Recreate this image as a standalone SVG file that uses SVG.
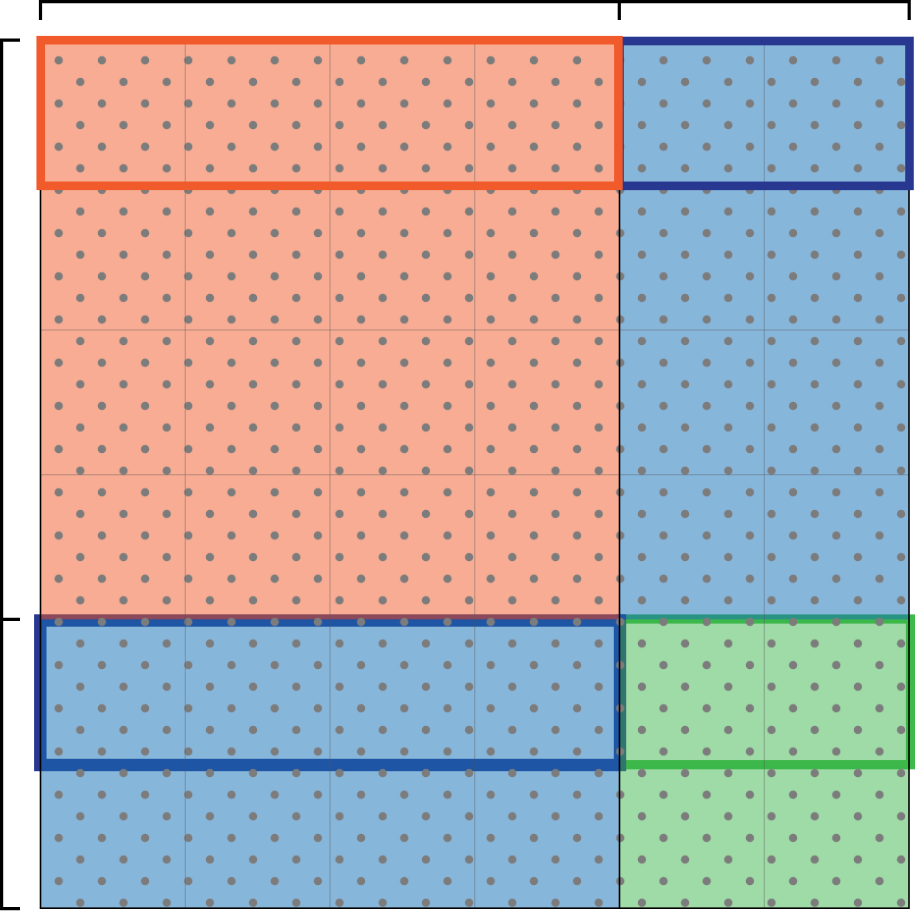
<svg xmlns="http://www.w3.org/2000/svg" width="915" height="911" viewBox="0 0 915 911">
  <style>
    .bracket { fill: none; stroke: #000; stroke-width: 3.2; }
    .fill-orange { fill: #f05a28; fill-opacity: 0.5; }
    .fill-blue { fill: #1671b9; fill-opacity: 0.515; }
    .fill-green { fill: #39b54a; fill-opacity: 0.49; }
    .grid { fill: none; stroke: #555; stroke-opacity: 0.4; stroke-width: 1; }
    .edge { fill: none; stroke: #000; stroke-width: 1.6; }
  </style>
  <defs>
    <pattern id="dots" patternUnits="userSpaceOnUse" x="47.9" y="49.5" width="43.2" height="43.2">
      <circle cx="10.8" cy="10.8" r="4.2" fill="#7c7c7c"/>
      <circle cx="32.4" cy="32.4" r="4.2" fill="#7c7c7c"/>
    </pattern>
  </defs>

  <g id="brackets">
    <path class="bracket" d="M40.5,20 V1.6 H909.2 V20 M619.3,1.6 V20"/>
    <path class="bracket" d="M20,40.2 H1.6 V908.7 H20 M1.6,619.3 H20"/>
  </g>

  <g id="highlight-green">
    <rect x="620" y="619" width="290.5" height="145.7" fill="none" stroke="#3fb94c" stroke-width="9.2"/>
  </g>
  <g id="highlight-blue-bottom">
    <rect x="40.3" y="620.5" width="579.7" height="144.5" fill="none" stroke="#283891" stroke-width="12.4"/>
  </g>

  <g id="region-orange">
    <rect class="fill-orange" x="40.5" y="40.5" width="579" height="579"/>
  </g>
  <g id="region-blue-right">
    <rect class="fill-blue" x="619.5" y="40.5" width="289.5" height="579"/>
  </g>
  <g id="region-blue-bottom">
    <rect class="fill-blue" x="40.5" y="619.5" width="579" height="288.5"/>
  </g>
  <g id="region-green">
    <rect class="fill-green" x="619.5" y="619.5" width="289.5" height="288.5"/>
  </g>

  <g id="dot-lattice">
    <rect x="50" y="52" width="858" height="856" fill="url(#dots)"/>
  </g>

  <g id="grid">
    <path class="grid" d="M185.25,40.5 V908 M330,40.5 V908 M474.75,40.5 V908 M764.25,40.5 V908 M40.5,185.25 H909 M40.5,330 H909 M40.5,474.75 H909"/>
  </g>

  <g id="outline">
    <rect class="edge" x="40.5" y="40.5" width="868.5" height="867.7"/>
    <path class="edge" d="M619.5,40.5 V908"/>
  </g>

  <g id="highlight-blue-top">
    <rect x="619.5" y="41" width="290" height="144.85" fill="none" stroke="#283891" stroke-width="8.6"/>
  </g>
  <g id="highlight-orange">
    <rect x="40.75" y="40.2" width="577.65" height="145.6" fill="none" stroke="#f15a2b" stroke-width="8.6"/>
  </g>
</svg>
